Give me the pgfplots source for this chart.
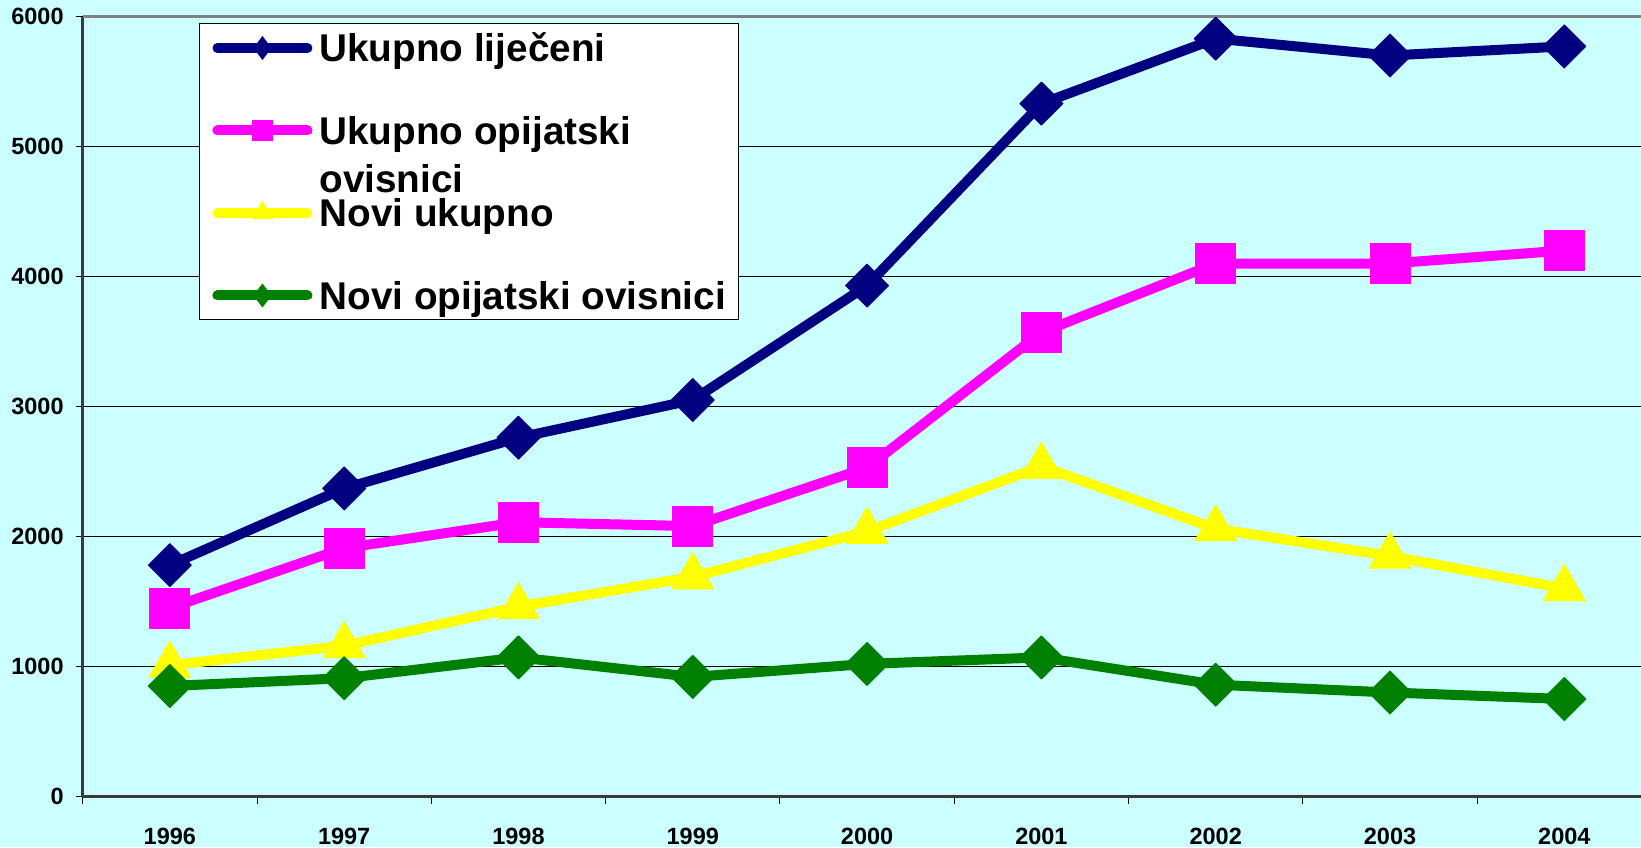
\documentclass[border=0pt]{standalone}
\usepackage{pgfplots}
\pgfplotsset{compat=1.18}
\usepackage{fontspec}
\setmainfont{Liberation Sans}
\definecolor{bgc}{HTML}{CCFFFF}
\definecolor{navyc}{HTML}{000080}
\definecolor{magc}{HTML}{FF00FF}
\definecolor{yelc}{HTML}{FFFF00}
\definecolor{grnc}{HTML}{008000}
\definecolor{axc}{HTML}{3A3A3A}
\begin{document}
\begin{tikzpicture}
\fill[bgc] (-41.35pt,-25.25pt) rectangle (779.15pt,398.25pt);
\path[use as bounding box] (-41.35pt,-25.25pt) rectangle (779.15pt,398.25pt);
\begin{axis}[
  at={(0pt,0pt)}, anchor=south west,
  scale only axis, width=779.15pt, height=390pt,
  xmin=-0.5, xmax=8.44, ymin=0, ymax=6000,
  axis lines=left, axis line style={-, draw=axc, line width=1.6pt},
  xtick={0,...,8}, xticklabels={1996,1997,1998,1999,2000,2001,2002,2003,2004},
  ytick={0,1000,...,6000},
  scaled y ticks=false,
  /pgf/number format/assume math mode=true,
  /pgf/number format/1000 sep={},
  ticklabel style={font=\bfseries\fontsize{11.75}{14}\selectfont},
  xticklabel style={yshift=-9pt},
  yticklabel style={xshift=-2.5pt},
  tick align=outside,
  major tick length=3.5pt,
  minor tick length=3.5pt,
  major x tick style={draw=none},
  y tick style={black, line width=0.5pt},
  minor xtick={-0.5,0.5,...,7.5},
  minor x tick style={black, line width=0.5pt},
  ymajorgrids, major grid style={black, line width=0.5pt},
  clip=false,
  legend style={at={(axis description cs:0.0746,0.9917)}, anchor=north west,
    draw=black, line width=0.5pt, fill=white,
    inner xsep=6.5pt, inner ysep=4.25pt, row sep=25.25pt, column sep=3.5pt,
    font=\bfseries\fontsize{19.35}{23}\selectfont,
    nodes={text height=15pt, text depth=1pt, inner sep=0pt}},
  legend cell align=left,
  legend image code/.code={\draw[mark repeat=2,mark phase=2,#1] plot coordinates {(2.5pt,0pt) (25pt,0pt) (47.5pt,0pt)};},
]
\draw[draw=gray, line width=1.7pt] (rel axis cs:0,1) -- (rel axis cs:1,1);
\addlegendimage{navyc, line width=5pt, line cap=round, mark=diamond*, mark size=5.75pt, mark options={solid, line width=0.3pt, fill=navyc}}
\addlegendentry{Ukupno liječeni}
\addlegendimage{magc, line width=5pt, line cap=round, mark=square*, mark size=5pt, mark options={solid, line width=0.3pt, fill=magc}}
\addlegendentry{\smash{\rlap{\raisebox{-24pt}{ovisnici}}}Ukupno opijatski}
\addlegendimage{yelc, line width=5pt, line cap=round, mark=triangle*, mark size=5.8pt, mark options={solid, line width=0.3pt, fill=yelc}}
\addlegendentry{Novi ukupno}
\addlegendimage{grnc, line width=5pt, line cap=round, mark=diamond*, mark size=5.75pt, mark options={solid, line width=0.3pt, fill=grnc}}
\addlegendentry{Novi opijatski ovisnici}

\addplot[navyc, line width=5pt, line join=round, mark=square*, mark size=7.6pt, mark options={rotate=45, line width=0.5pt, fill=navyc}, forget plot]
coordinates {(0,1780)(1,2370)(2,2760)(3,3050)(4,3930)(5,5330)(6,5830)(7,5700)(8,5770)};
\addplot[magc, line width=5pt, line join=round, mark=square*, mark size=10pt, mark options={line width=0.5pt, fill=magc}, forget plot]
coordinates {(0,1450)(1,1910)(2,2110)(3,2080)(4,2530)(5,3570)(6,4100)(7,4100)(8,4200)};
\addplot[yelc, line width=5pt, line join=round, mark=triangle*, mark size=12pt, mark options={line width=0.5pt, fill=yelc}, forget plot]
coordinates {(0,1010)(1,1160)(2,1460)(3,1690)(4,2040)(5,2540)(6,2060)(7,1850)(8,1600)};
\addplot[grnc, line width=5pt, line join=round, mark=square*, mark size=7.6pt, mark options={rotate=45, line width=0.5pt, fill=grnc}, forget plot]
coordinates {(0,850)(1,910)(2,1070)(3,920)(4,1020)(5,1070)(6,860)(7,800)(8,750)};
\end{axis}
\end{tikzpicture}
\end{document}
